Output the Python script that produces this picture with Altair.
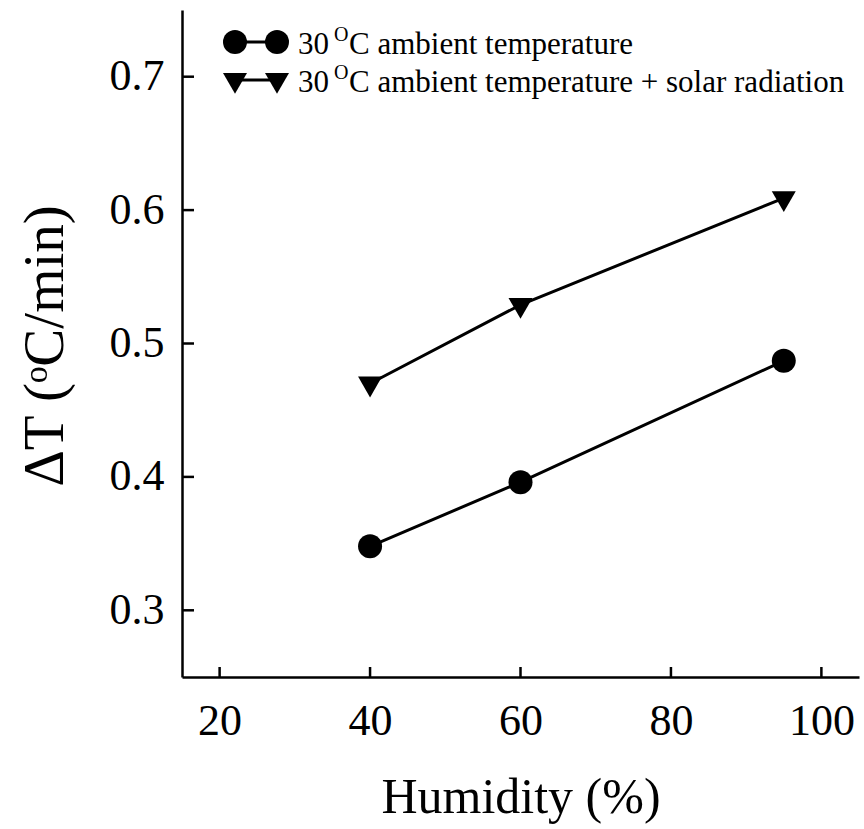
import altair as alt
import pandas as pd

# Heating rate vs. relative humidity for two exposure conditions
humidity = [40, 60, 95]
ambient = [0.348, 0.396, 0.487]
ambient_solar = [0.470, 0.529, 0.609]
series_names = ["ambient", "ambient + solar"]
legend_labels = ["C ambient temperature", "C ambient temperature + solar radiation"]
x_ticks = [20, 40, 60, 80, 100]
y_ticks = [0.3, 0.4, 0.5, 0.6, 0.7]

W, H = 677, 667
FONT = "Liberation Serif"
# downward triangle with its centroid on the data point
TRI = "M-1,-0.577L1,-0.577L0,1.155Z"

df = pd.DataFrame({
    "humidity": humidity * 2,
    "dT": ambient + ambient_solar,
    "series": [series_names[0]] * 3 + [series_names[1]] * 3,
})

xs = alt.Scale(domain=[15, 105], nice=False, zero=False)
ys = alt.Scale(domain=[0.25, 0.75], nice=False, zero=False)

x_axis = alt.Axis(
    values=x_ticks, ticks=False, tickSize=0, grid=False,
    domainColor="black", domainWidth=2.5,
    labelFont=FONT, labelFontSize=44, labelColor="black", labelPadding=22,
    title="Humidity (%)", titleFont=FONT, titleFontSize=50,
    titleFontWeight="normal", titleColor="black",
    titleY=135, titleBaseline="alphabetic",
)
y_axis = alt.Axis(
    values=y_ticks, format=".1f", ticks=False, tickSize=0, grid=False,
    domainColor="black", domainWidth=2.5,
    labelFont=FONT, labelFontSize=44, labelColor="black", labelPadding=18,
    title="ΔT (ᵒC/min)", titleFont=FONT, titleFontSize=57,
    titleFontWeight="normal", titleColor="black",
    titleAngle=270, titleX=-120, titleY=H / 2 + 2, titleAlign="center",
    titleBaseline="alphabetic",
)


def xenc(field):
    return alt.X(field, scale=xs, axis=x_axis)


def yenc(field):
    return alt.Y(field, scale=ys, axis=y_axis)


base = alt.Chart(df)
lines = base.mark_line(color="black", strokeWidth=3).encode(
    x=xenc("humidity:Q"), y=yenc("dT:Q"), detail="series:N",
)
circles = base.transform_filter(alt.datum.series == series_names[0]).mark_point(
    shape="circle", filled=True, color="black", opacity=1, size=576
).encode(x=xenc("humidity:Q"), y=yenc("dT:Q"))
triangles = base.transform_filter(alt.datum.series == series_names[1]).mark_point(
    shape=TRI, filled=True, color="black", opacity=1, size=576
).encode(x=xenc("humidity:Q"), y=yenc("dT:Q"))

# inward tick marks
xt = alt.Chart(pd.DataFrame({"t": x_ticks})).mark_rule(color="black", strokeWidth=2.5).encode(
    x=xenc("t:Q"), y=alt.value(H), y2=alt.value(H - 10),
)
yt = alt.Chart(pd.DataFrame({"t": y_ticks})).mark_rule(color="black", strokeWidth=2.5).encode(
    y=yenc("t:Q"), x=alt.value(0), x2=alt.value(12),
)

# legend
legend_layers = []
row_y = [32, 70]
shapes = ["circle", TRI]
for i in range(2):
    one = pd.DataFrame({"label": [legend_labels[i]]})
    c = alt.Chart(one)
    legend_layers.append(
        c.mark_rule(color="black", strokeWidth=3).encode(
            x=alt.value(53), x2=alt.value(95), y=alt.value(row_y[i]))
    )
    for sx in [53, 95]:
        legend_layers.append(
            c.mark_point(shape=shapes[i], filled=True, color="black", opacity=1, size=576).encode(
                x=alt.value(sx), y=alt.value(row_y[i]))
        )
    legend_layers.append(
        c.mark_text(font=FONT, fontSize=31, align="left", baseline="alphabetic", color="black").encode(
            x=alt.value(116), y=alt.value(row_y[i] + 12), text=alt.value("30"))
    )
    legend_layers.append(
        c.mark_text(font=FONT, fontSize=20, align="left", baseline="alphabetic", color="black").encode(
            x=alt.value(152), y=alt.value(row_y[i] - 1), text=alt.value("O"))
    )
    legend_layers.append(
        c.mark_text(font=FONT, fontSize=31, align="left", baseline="alphabetic", color="black").encode(
            x=alt.value(167), y=alt.value(row_y[i] + 12), text="label:N")
    )

chart = alt.layer(lines, circles, triangles, xt, yt, *legend_layers).properties(
    width=W, height=H, background="white",
    autosize=alt.AutoSizeParams(type="none"),
    padding={"left": 182, "top": 10, "right": 5, "bottom": 152},
).configure_view(strokeWidth=0)

chart.save("out.html", embed_options={"renderer": "svg", "actions": False})
